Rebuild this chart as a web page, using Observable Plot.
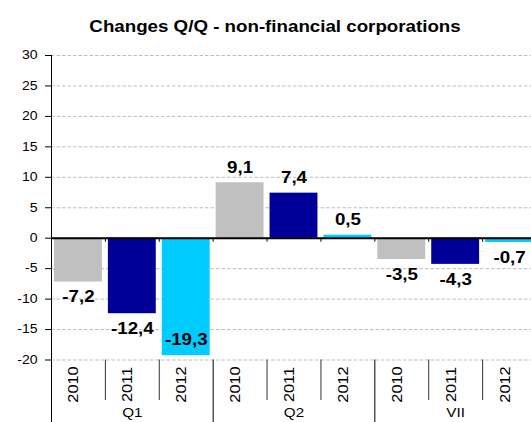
<!DOCTYPE html>
<html><head><meta charset="utf-8">
<script src="https://cdn.jsdelivr.net/npm/d3@7"></script>
<script src="https://cdn.jsdelivr.net/npm/@observablehq/plot@0.6"></script>
<style>
html,body{margin:0;padding:0;background:#fff;overflow:hidden}
</style></head><body><div id="chart"></div>
<script>
const title = "Changes Q/Q - non-financial corporations";
const groups = ["Q1", "Q2", "VII"];
const years = ["2010", "2011", "2012"];
const values2010 = [-7.2, 9.1, -3.5];
const values2011 = [-12.4, 7.4, -4.3];
const values2012 = [-19.3, 0.5, -0.7];
const yTicks = [-20, -15, -10, -5, 0, 5, 10, 15, 20, 25, 30];
const yearColors = ["#c0c0c0", "#000099", "#00ccff"];

const series = [values2010, values2011, values2012];
const data = [];
groups.forEach((g, gi) => {
  years.forEach((yr, yi) => {
    data.push({group: g, year: yr, i: gi * 3 + yi, v: series[yi][gi]});
  });
});
const fmt = v => v.toFixed(1).replace(".", ",");
const nCats = data.length;
const boundaries = d3.range(1, nCats);
const groupBounds = boundaries.filter(b => b % years.length === 0);
const yearBounds = boundaries.filter(b => b % years.length !== 0);
const groupCenters = groups.map((g, gi) => ({g, c: gi * years.length + years.length / 2}));

const W = 531, H = 422, mT = 55, mB = 62.5, mL = 51, mR = -5;
const frameH = H - mT - mB;

const chart = Plot.plot({
  width: W, height: H,
  marginTop: mT, marginBottom: mB, marginLeft: mL, marginRight: mR,
  style: {fontFamily: "'Liberation Sans', Arial, sans-serif", background: "#fff", color: "#000", overflow: "hidden"},
  x: {type: "linear", domain: [0, nCats], axis: null},
  y: {domain: [-20, 30], axis: null},
  color: {domain: years, range: yearColors},
  marks: [
    Plot.ruleY(yTicks, {stroke: "#bdbdbd", strokeDasharray: "3.5,2", strokeWidth: 1}),
    Plot.rectY(data, {x1: "i", x2: d => d.i + 1, y1: 0, y2: "v", fill: "year", insetLeft: 3, insetRight: 3}),
    Plot.ruleY([0], {stroke: "#000", strokeWidth: 2}),
    Plot.ruleX(boundaries, {y1: 0, y2: 0, insetBottom: -4, stroke: "#000"}),
    Plot.ruleX([0], {stroke: "#000", insetBottom: -(mB + 1)}),
    Plot.ruleX(groupBounds, {stroke: "#000", insetTop: frameH, insetBottom: -(mB + 1)}),
    Plot.ruleX(yearBounds, {stroke: "#333", insetTop: frameH, insetBottom: -40.5}),
    Plot.axisY(yTicks, {tickSize: 6, tickPadding: 8, fontSize: 12, tickFormat: d => `${d}`, label: null, stroke: "#000"}),
    Plot.text(data, {x: d => d.i + 0.5, text: "year", frameAnchor: "bottom", dy: 24.5, rotate: -90, fontSize: 14, textAnchor: "middle", ariaLabel: "years"}),
    Plot.text(groupCenters, {x: "c", text: "g", frameAnchor: "bottom", dy: 56.5, fontSize: 13}),
    Plot.text(data.filter(d => d.v >= 0), {x: d => d.i + 0.5, y: "v", text: d => fmt(d.v), dy: -15, fontSize: 16, fontWeight: "bold"}),
    Plot.text(data.filter(d => d.v < 0 && d.v >= -17), {x: d => d.i + 0.5, y: "v", text: d => fmt(d.v), dy: 15, fontSize: 16, fontWeight: "bold"}),
    Plot.text(data.filter(d => d.v < -17), {x: d => d.i + 0.5, y: "v", text: d => fmt(d.v), dy: -16, fontSize: 16, fontWeight: "bold"}),
    Plot.text([title], {frameAnchor: "top", dx: -19, dy: -35, fontSize: 16, fontWeight: "bold"})
  ]
});
document.getElementById("chart").appendChild(chart);

// the reference text is horizontally widened; mimic with textLength
const stretch = 1.17;
chart.querySelectorAll("g").forEach(g => {
  if (g.getAttribute("aria-label") === "years") return;
  g.querySelectorAll(":scope > text").forEach(t => {
    try {
      const L = t.getComputedTextLength();
      if (L > 0) {
        t.setAttribute("textLength", (L * stretch).toFixed(2));
        t.setAttribute("lengthAdjust", "spacingAndGlyphs");
      }
    } catch (e) {}
  });
});
</script></body></html>
